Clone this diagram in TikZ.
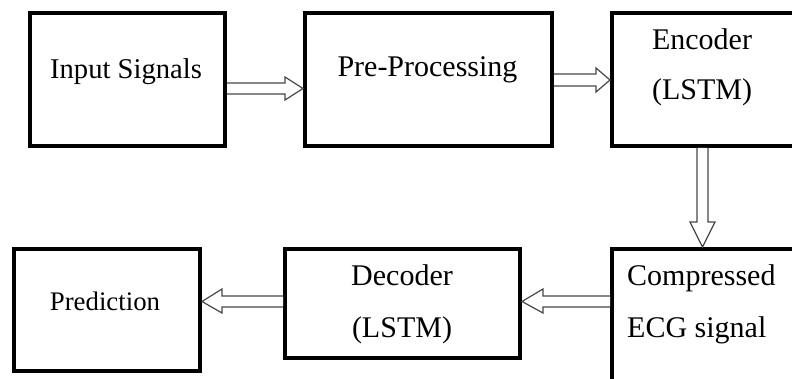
\documentclass[tikz,border=0pt]{standalone}
\usepackage{fontspec}
\setmainfont{Liberation Serif}
\begin{document}
\begin{tikzpicture}[x=1pt,y=-1pt,
  box/.style={draw=black, line width=4pt, inner sep=0pt, fill=white},
  lbl/.style={anchor=base, inner sep=0pt, font=\fontsize{30}{36}\selectfont},
  lbll/.style={anchor=base west, inner sep=0pt, font=\fontsize{30}{36}\selectfont},
  arr/.style={draw=black!72, line width=1.2pt, fill=white, line join=miter}]
\useasboundingbox (0,0) rectangle (792,379);
\clip (0,0) rectangle (792,379);
\fill[white] (0,0) rectangle (792,379);
% boxes
\node[box, minimum width=195pt, minimum height=133pt] (inp) at (127.5,79.5) {};
\node[box, minimum width=247pt, minimum height=133pt] (pre) at (428.5,79.5) {};
\node[box, minimum width=216pt, minimum height=133pt] (enc) at (720,79.5) {};
\node[box, minimum width=186pt, minimum height=122pt] (pred) at (107,310) {};
\node[box, minimum width=235pt, minimum height=109pt] (dec) at (402.5,303.5) {};
\node[box, minimum width=216pt, minimum height=201pt] (cmp) at (720,349.5) {};
% texts
\node[lbl, font=\fontsize{28.6}{34}\selectfont] (tinp) at (126,79) {Input Signals};
\node[lbl] (tpre) at (427.5,77) {Pre-Processing};
\node[lbl] (tenc1) at (702,50) {Encoder};
\node[lbl] (tenc2) at (702,100) {(LSTM)};
\node[lbll] (tcmp1) at (627,285) {Compressed};
\node[lbll] (tcmp2) at (627,337) {ECG signal};
\node[lbl] (tdec1) at (402,285) {Decoder};
\node[lbl] (tdec2) at (402,337) {(LSTM)};
\node[lbl, font=\fontsize{26.8}{32}\selectfont] (tpred) at (105,310) {Prediction};
% arrows
\filldraw[arr] (inp.east |- 0,83) -- (285,83) -- (285,77) -- (pre.west |- 0,88.5) -- (285,100) -- (285,94) -- (inp.east |- 0,94);
\filldraw[arr] (pre.east |- 0,74) -- (596,74) -- (596,68) -- (enc.west |- 0,80) -- (596,92) -- (596,86) -- (pre.east |- 0,86);
\filldraw[arr] (697,0 |- enc.south) -- (697,222) -- (690,222) -- (702.5,0 |- cmp.north) -- (715,222) -- (708,222) -- (708,0 |- enc.south);
\filldraw[arr] (cmp.west |- 0,296) -- (543,296) -- (543,289) -- (dec.east |- 0,301.5) -- (543,313) -- (543,307) -- (cmp.west |- 0,307);
\filldraw[arr] (dec.west |- 0,296) -- (222,296) -- (222,289) -- (pred.east |- 0,301.5) -- (222,313) -- (222,307) -- (dec.west |- 0,307);
\end{tikzpicture}
\end{document}
